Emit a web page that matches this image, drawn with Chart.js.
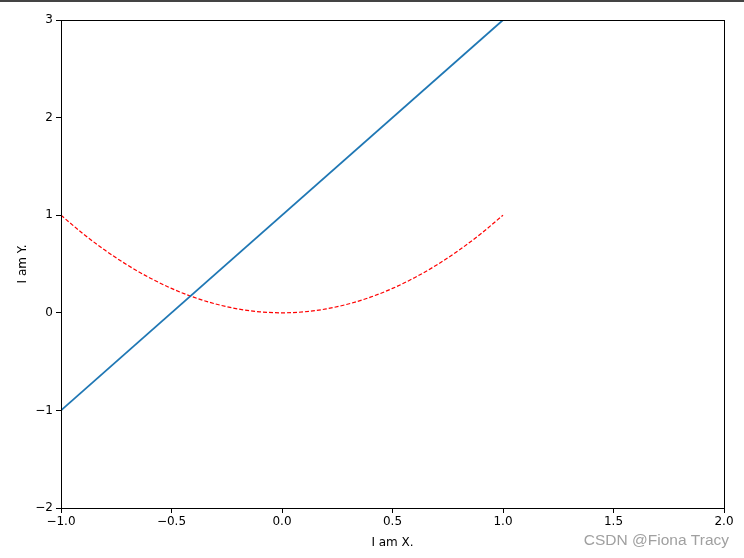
<!DOCTYPE html>
<html>
<head>
<meta charset="utf-8">
<script src="https://cdn.jsdelivr.net/npm/chart.js@4/dist/chart.umd.min.js"></script>
<style>
    body { margin: 0; background: #fff; }
    #wrap { width: 744px; height: 558px; border-top: 2px solid #444; box-sizing: border-box; }
</style>
</head>
<body>
<div id="wrap"><canvas id="chart" width="744" height="556"></canvas></div>
<script>
// values
const lineX = [-1, 1]
const lineY = [-1, 3]
const curveX = [-1, -0.9, -0.8, -0.7, -0.6, -0.5, -0.4, -0.3, -0.2, -0.1, 0, 0.1, 0.2, 0.3, 0.4, 0.5, 0.6, 0.7, 0.8, 0.9, 1]
const curveY = [1, 0.81, 0.64, 0.49, 0.36, 0.25, 0.16, 0.09, 0.04, 0.01, 0, 0.01, 0.04, 0.09, 0.16, 0.25, 0.36, 0.49, 0.64, 0.81, 1]
const xTicks = [-1, -0.5, 0, 0.5, 1, 1.5, 2]
const yTicks = [-2, -1, 0, 1, 2, 3]

const toPoints = (xs, ys) => xs.map((x, i) => ({ x: x, y: ys[i] }))
const minus = s => s.replace('-', '\u2212')

const frame = {
    id: 'frame',
    afterDraw(chart) {
        const { ctx, chartArea: a } = chart
        ctx.save()
        ctx.strokeStyle = '#000'
        ctx.lineWidth = 1
        ctx.strokeRect(Math.round(a.left) + 0.5, Math.round(a.top) + 0.5, Math.round(a.right - a.left), Math.round(a.bottom - a.top))
        ctx.font = '15.5px "Liberation Sans", Arial, sans-serif'
        ctx.fillStyle = '#a0a0a0'
        ctx.textAlign = 'right'
        ctx.textBaseline = 'middle'
        ctx.fillText('CSDN @Fiona Tracy', 729, 539)
        ctx.restore()
    }
}

const tickFont = { family: 'DejaVu Sans', size: 12 }

new Chart(document.getElementById('chart'), {
    type: 'scatter',
    data: {
        datasets: [{
            data: toPoints(lineX, lineY),
            showLine: true,
            borderColor: '#1f77b4',
            borderWidth: 1.8,
            pointRadius: 0
        }, {
            data: toPoints(curveX, curveY),
            showLine: true,
            borderColor: '#ff0000',
            borderWidth: 1.2,
            borderDash: [4, 2],
            cubicInterpolationMode: 'monotone',
            pointRadius: 0
        }]
    },
    options: {
        responsive: false,
        animation: false,
        layout: { padding: { top: 18, right: 20, left: 0, bottom: 0 } },
        plugins: { legend: { display: false }, tooltip: { enabled: false } },
        scales: {
            x: {
                type: 'linear',
                min: -1, max: 2,
                afterBuildTicks: s => { s.ticks = xTicks.map(v => ({ value: v })) },
                afterFit: s => { s.height = 50 },
                grid: { drawOnChartArea: false, drawTicks: true, tickLength: 5, color: '#000' },
                border: { display: true, color: '#000' },
                ticks: {
                    color: '#000', font: tickFont, padding: 2, maxRotation: 0,
                    callback: v => minus(v.toFixed(1))
                },
                title: { display: true, text: 'I am X.', color: '#000', font: tickFont, padding: { top: 0, bottom: 8 } }
            },
            y: {
                type: 'linear',
                min: -2, max: 3,
                afterBuildTicks: s => { s.ticks = yTicks.map(v => ({ value: v })) },
                afterFit: s => { s.width = 61 },
                grid: { drawOnChartArea: false, drawTicks: true, tickLength: 5, color: '#000' },
                border: { display: true, color: '#000' },
                ticks: {
                    color: '#000', font: tickFont, padding: 3,
                    callback: v => minus(String(v))
                },
                title: { display: true, text: 'I am Y.', color: '#000', font: tickFont, padding: { top: 16, bottom: 0 } }
            }
        }
    },
    plugins: [frame]
})
</script>
</body>
</html>
